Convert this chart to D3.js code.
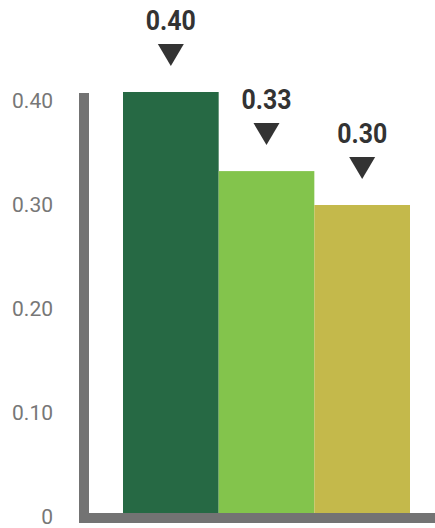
<!DOCTYPE html>
<html>
<head>
<meta charset="utf-8">
<script src="https://cdn.jsdelivr.net/npm/d3@7"></script>
<style>
  html, body { margin: 0; padding: 0; background: #fff; }
  svg { display: block; }
</style>
</head>
<body>
<svg id="chart" width="435" height="528"></svg>
<script>
// Data
const categories = ["Group A", "Group B", "Group C"];
const values = [0.40, 0.33, 0.30];
const valueLabels = ["0.40", "0.33", "0.30"];
const barColors = ["#266944", "#83c44c", "#c4b94b"];
const tickValues = [0, 0.1, 0.2, 0.3, 0.4];
const tickLabels = ["0", "0.10", "0.20", "0.30", "0.40"];

const svg = d3.select("#chart");
const W = 435;

// Layout
const axisColor = "#737373";
const axisX = 79, axisW = 10;       // vertical axis bar
const baseY = 513, baseH = 10;      // horizontal axis bar
const axisTop = 93;

const x = d3.scaleBand().domain(categories).range([123, 410]).padding(0);

// NOTE: the bars and the tick labels use two different scales.
// Bar scale: about 1130 px per unit, with its zero below the baseline
// (bars are cut off at the baseline), so the bar differences look exaggerated.
const y = d3.scaleLinear().domain([0, 0.4]).range([544, 92]);
// Tick-label scale: about 1040 px per unit. The "0" label is moved up a few px
// so it stays inside the frame. The ticks do NOT line up with the bar heights.
const yTick = d3.scaleLinear().domain([0, 0.4]).range([516, 100]);

// Bars
svg.append("g").selectAll("rect")
  .data(values)
  .join("rect")
  .attr("x", (d, i) => x(categories[i]))
  .attr("width", x.bandwidth())
  .attr("y", d => y(d))
  .attr("height", d => baseY - y(d))
  .attr("fill", (d, i) => barColors[i]);

// Axis bars
svg.append("rect")
  .attr("x", axisX).attr("y", axisTop)
  .attr("width", axisW).attr("height", baseY + baseH - axisTop)
  .attr("fill", axisColor);
svg.append("rect")
  .attr("x", axisX).attr("y", baseY)
  .attr("width", W - axisX).attr("height", baseH)
  .attr("fill", axisColor);

// Y tick labels
const yAxis = d3.axisLeft(yTick)
  .tickValues(tickValues)
  .tickFormat((d, i) => tickLabels[i])
  .tickSize(0)
  .tickPadding(0);
const gy = svg.append("g").attr("transform", "translate(53,0)").call(yAxis);
gy.select(".domain").remove();
gy.selectAll("text")
  .attr("font-family", "Roboto, 'DejaVu Sans', sans-serif")
  .attr("font-size", 21)
  .attr("fill", "#777777")
  .attr("dy", "0.35em");

// Value markers: label + downward triangle above each bar.
// Roboto Bold, squeezed to 50 px wide to look like a condensed face.
const marks = svg.append("g").selectAll("g")
  .data(values)
  .join("g")
  .attr("transform", (d, i) => `translate(${x(categories[i]) + x.bandwidth() / 2},${y(d)})`);

marks.append("text")
  .attr("y", -62)
  .attr("text-anchor", "middle")
  .attr("font-family", "Roboto, 'DejaVu Sans', sans-serif")
  .attr("font-weight", 700)
  .attr("font-size", 28)
  .attr("textLength", 50)
  .attr("lengthAdjust", "spacingAndGlyphs")
  .attr("fill", "#333333")
  .text((d, i) => valueLabels[i]);

marks.append("path")
  .attr("d", "M-13,-48 L13,-48 L0,-26 Z")
  .attr("fill", "#333333");
</script>
</body>
</html>
